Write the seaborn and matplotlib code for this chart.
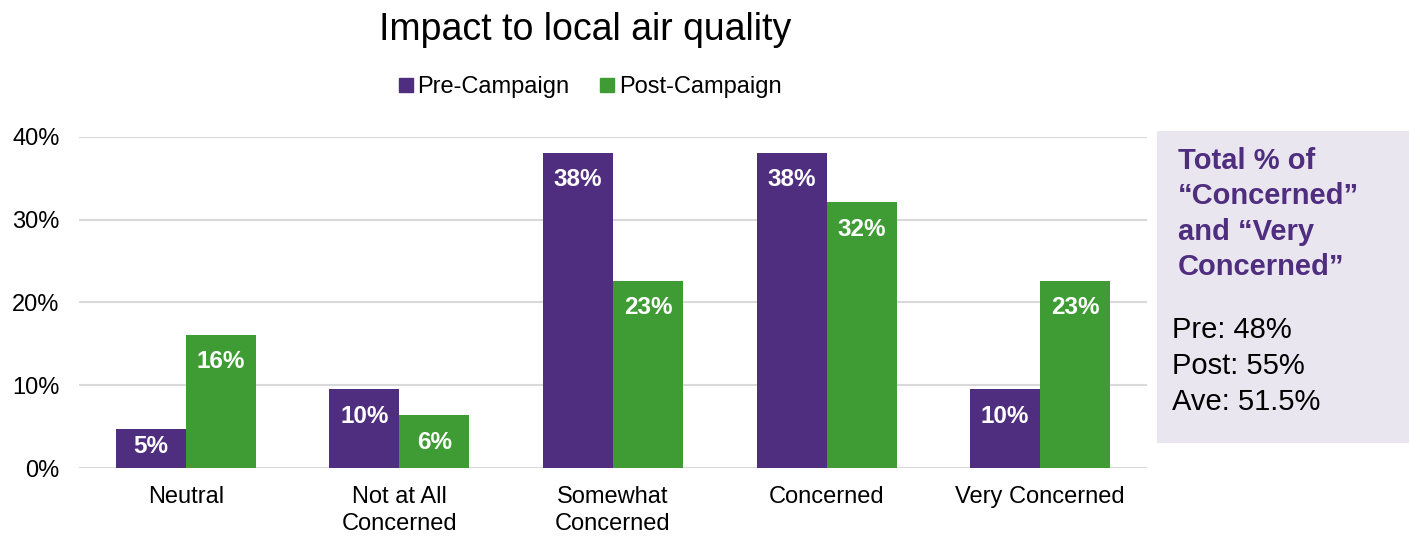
import matplotlib
matplotlib.use("Agg")
import matplotlib.pyplot as plt
import seaborn as sns
import pandas as pd
from matplotlib.patches import Rectangle
from matplotlib.lines import Line2D

categories = ["Neutral", "Not at All\nConcerned", "Somewhat\nConcerned", "Concerned", "Very Concerned"]
pre_values = [4.7, 9.5, 38.1, 38.1, 9.5]
post_values = [16.1, 6.4, 22.6, 32.1, 22.6]
series_names = ["Pre-Campaign", "Post-Campaign"]
y_ticks = [0, 10, 20, 30, 40]
title = "Impact to local air quality"
box_heading = "Total % of\n\u201cConcerned\u201d\nand \u201cVery\nConcerned\u201d"
box_lines = ["Pre: 48%", "Post: 55%", "Ave: 51.5%"]

sns.set_style("white")
plt.rcParams["font.family"] = ["Liberation Sans", "DejaVu Sans"]
plt.rcParams["text.color"] = "black"
plt.rcParams["xtick.color"] = "black"
plt.rcParams["ytick.color"] = "black"

purple = "#4F2D7F"
green = "#3F9C35"

df = pd.DataFrame({
    "category": categories * 2,
    "value": pre_values + post_values,
    "series": [series_names[0]] * len(categories) + [series_names[1]] * len(categories),
})

fig = plt.figure(figsize=(14.09, 5.38), dpi=100)
ax = fig.add_axes([0.0561, 0.1301, 0.7579, 0.6153])

sns.barplot(data=df, x="category", y="value", hue="series", order=categories,
            hue_order=series_names, palette=[purple, green], width=0.656,
            saturation=1, ax=ax, legend=False, linewidth=0)

ax.set_ylim(0, 40)
ax.set_xlim(-0.5, len(categories) - 0.5)
ax.set_yticks(y_ticks)
ax.set_yticklabels([f"{t}%" for t in y_ticks], fontsize=17)
ax.tick_params(axis="x", labelsize=17, length=0, pad=13)
ax.tick_params(axis="y", length=0, pad=14)
for lbl in ax.get_xticklabels():
    lbl.set_linespacing(1.3)
ax.set_xlabel("")
ax.set_ylabel("")
ax.yaxis.grid(True, color="#D9D9D9", linewidth=1.5)
ax.set_axisbelow(True)
for s in ax.spines.values():
    s.set_visible(False)

# data units per pixel on the y axis
fig.canvas.draw()
px_per_unit = ax.bbox.height / 40.0
inset = 27 / px_per_unit
min_room = 22 / px_per_unit
for container in ax.containers:
    for bar in container:
        h = bar.get_height()
        y = h - min(inset, h - min_room)
        ax.text(bar.get_x() + bar.get_width() / 2, y, f"{h:.0f}%",
                ha="center", va="center", color="white",
                fontsize=17.5, fontweight="bold")

fig.text(0.415, 0.945, title, ha="center", va="center", fontsize=27)

handles = [Line2D([], [], marker="s", linestyle="none", markersize=10,
                  markerfacecolor=c, markeredgecolor=c) for c in (purple, green)]
fig.legend(handles, series_names, loc="center", bbox_to_anchor=(0.418, 0.838),
           ncol=2, frameon=False, fontsize=17, handletextpad=0.1,
           columnspacing=1.2, handlelength=0.8)

box = Rectangle((1157 / 1409, 1 - 443 / 538), 252 / 1409, (443 - 131) / 538,
                transform=fig.transFigure, facecolor="#EAE6EF", edgecolor="none")
fig.patches.append(box)
fig.text(1178 / 1409, 1 - 147 / 538, box_heading, ha="left", va="top",
         fontsize=21, fontweight="bold", color=purple, linespacing=1.33)
fig.text(1172 / 1409, 1 - 316 / 538, "\n".join(box_lines), ha="left", va="top",
         fontsize=21, color="black", linespacing=1.36)

fig.savefig("out.png", dpi=100)
